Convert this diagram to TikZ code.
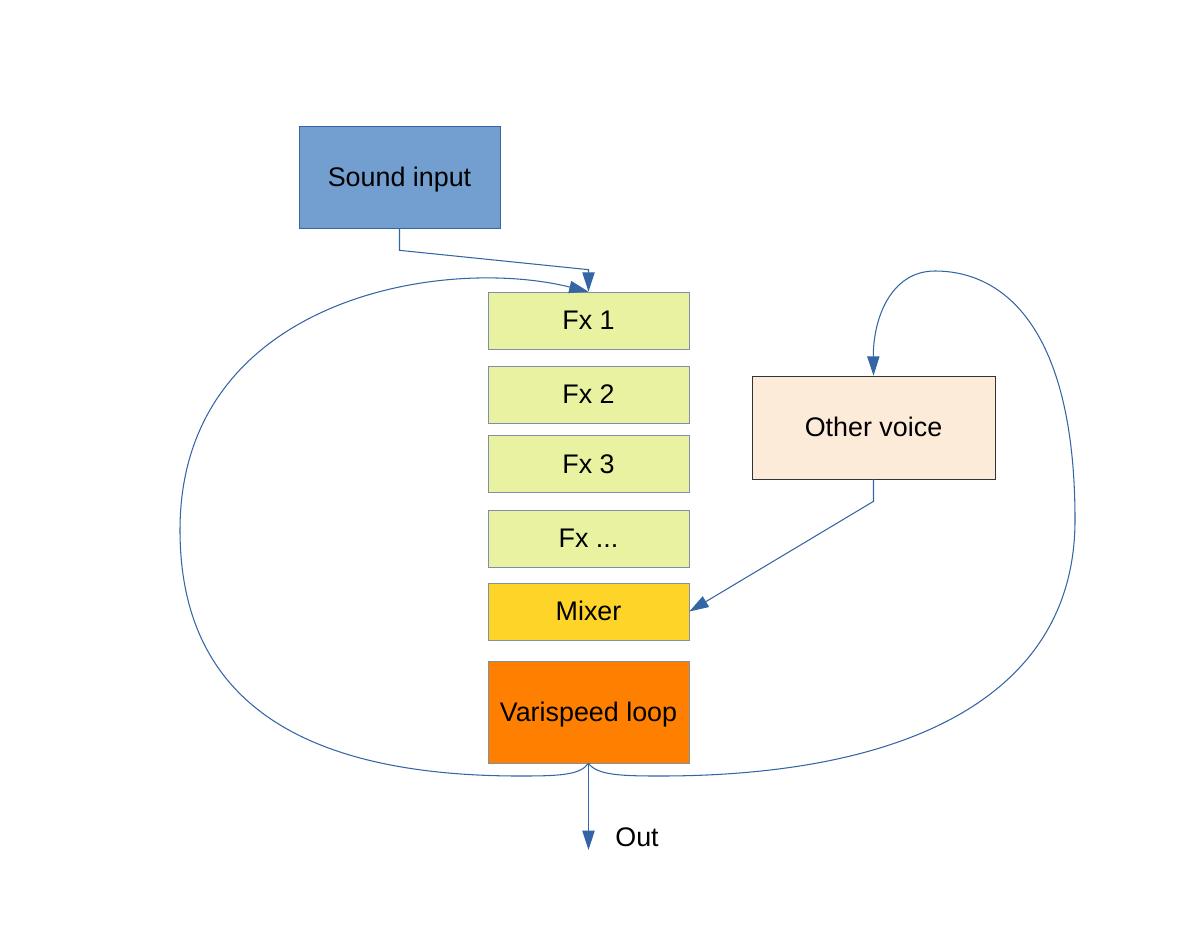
\documentclass[tikz,border=0pt]{standalone}
\usepackage{fontspec}
\setmainfont{Liberation Sans}
\usetikzlibrary{arrows.meta}
\definecolor{linkblue}{HTML}{3465A4}
\definecolor{inblue}{HTML}{729FCF}
\definecolor{fxgreen}{HTML}{E8F2A1}
\definecolor{fxedge}{HTML}{7F8FA9}
\definecolor{mixyellow}{HTML}{FFD428}
\definecolor{loopor}{HTML}{FF8000}
\definecolor{voicecream}{HTML}{FDEBDA}
\tikzset{
   box/.style={draw=fxedge, rectangle, inner sep=0pt, minimum width=4.02cm,
      text height=13.8pt, text depth=3.2pt,
      font=\fontsize{15.3}{18}\selectfont},
   link/.style={draw=linkblue, line width=0.6pt,
      -{Triangle[length=11pt,width=7pt]}}
}
\begin{document}
\begin{tikzpicture}[x=0.02cm, y=-0.02cm]
   \useasboundingbox (0,0) rectangle (1199,927);
   \node[box, draw=linkblue, fill=inblue, minimum height=2.04cm] (sound) at (399.5,177) {Sound input};
   \def \Effects {
      fxa/320.5/Fx 1,
      fxb/394.5/Fx 2,
      fxc/464/Fx 3,
      fxd/538.5/Fx {.}{.}{.}}
   \foreach \n / \y / \t in \Effects {
      \node[box, fill=fxgreen, minimum height=1.14cm] (\n) at (588.5,\y) {\t};
   }
   \node[box, fill=mixyellow, minimum height=1.14cm] (mixer) at (588.5,611.5) {Mixer};
   \node[box, fill=loopor, minimum height=2.04cm] (vari) at (588.5,712) {Varispeed loop};
   \node[box, draw=black!80, fill=voicecream, minimum width=4.86cm, minimum height=2.06cm] (voice) at (873.5,427.5) {Other voice};
   \coordinate (outend) at (588.5,850);
   \node[font=\fontsize{15.3}{18}\selectfont] (out) at (637,837) {Out};
   % connectors
   \path[link] (sound.south) -- ++(0,22) -- ([yshift=0.44cm]fxa.north) -- (fxa.north);
   \path[link] (voice.south) -- ++(0,22) -- (mixer.east);
   \path[link] (vari.south) -- (outend);
   % feedback loops
   \coordinate (lb) at (520,776);
   \coordinate (lw) at (180,530);
   \coordinate (rb) at (660,776);
   \coordinate (re) at (1075,520);
   \coordinate (rt) at (935,271);
   \path[link] (vari.south) .. controls (580,775) and (560,776) .. (lb)
      .. controls (300,776) and (180,700) .. (lw)
      .. controls (180,300) and (440,255) .. (fxa.north);
   \path[link] (vari.south) .. controls (597,775) and (620,776) .. (rb)
      .. controls (900,776) and (1075,700) .. (re)
      .. controls (1075,330) and (1005,271) .. (rt)
      .. controls (890,271) and (873,320) .. (voice.north);
\end{tikzpicture}
\end{document}
